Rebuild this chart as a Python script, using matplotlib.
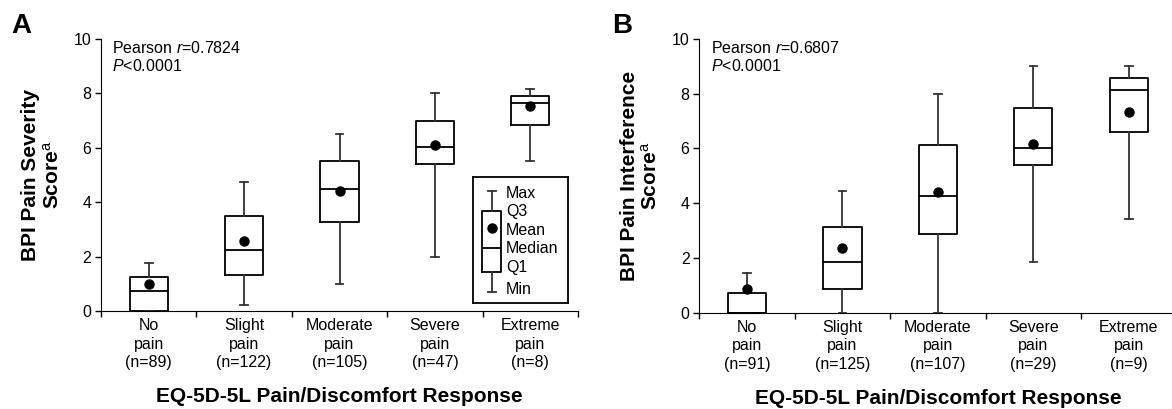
import matplotlib
matplotlib.use('Agg')
import matplotlib.pyplot as plt

plt.rcParams['font.family'] = 'Liberation Sans'
plt.rcParams['mathtext.fontset'] = 'custom'
plt.rcParams['mathtext.rm'] = 'Liberation Sans'
plt.rcParams['mathtext.it'] = 'Liberation Sans:italic'
plt.rcParams['mathtext.bf'] = 'Liberation Sans:bold'

# categories
categories = ['No\npain', 'Slight\npain', 'Moderate\npain', 'Severe\npain', 'Extreme\npain']

# panel A - BPI pain severity
n_a = [89, 122, 105, 47, 8]
sev_min = [0.0, 0.23, 0.98, 2.0, 5.51]
sev_q1 = [0.0, 1.31, 3.27, 5.39, 6.83]
sev_med = [0.75, 2.24, 4.50, 6.02, 7.64]
sev_q3 = [1.26, 3.49, 5.50, 7.0, 7.89]
sev_max = [1.75, 4.75, 6.51, 8.03, 8.15]
sev_mean = [0.98, 2.56, 4.40, 6.11, 7.53]

# panel B - BPI pain interference
n_b = [91, 125, 107, 29, 9]
int_min = [0.0, 0.0, 0.0, 1.85, 3.42]
int_q1 = [0.0, 0.85, 2.86, 5.39, 6.59]
int_med = [0.0, 1.85, 4.27, 6.02, 8.15]
int_q3 = [0.71, 3.13, 6.14, 7.49, 8.59]
int_max = [1.44, 4.43, 8.0, 9.01, 9.01]
int_mean = [0.85, 2.36, 4.40, 6.17, 7.33]

# schematic key (in key axes units 0-1)
key_stats = {'whislo': 0.089, 'q1': 0.25, 'med': 0.438, 'q3': 0.731, 'whishi': 0.891, 'mean': 0.594}
key_labels = ['Max', 'Q3', 'Mean', 'Median', 'Q1', 'Min']
key_label_y = [0.873, 0.723, 0.580, 0.434, 0.282, 0.113]

W, H = 1172, 409
fig = plt.figure(figsize=(W / 100, H / 100), dpi=100)

line_col = '#333333'
fs = 11.5


def make_stats(mins, q1s, meds, q3s, maxs, means):
    out = []
    for i in range(len(mins)):
        out.append({'whislo': mins[i], 'q1': q1s[i], 'med': meds[i], 'q3': q3s[i],
                    'whishi': maxs[i], 'mean': means[i], 'fliers': []})
    return out


def draw_panel(ax, stats, ns, ylabel, r_text):
    ax.bxp(stats, positions=range(1, len(stats) + 1), widths=0.4, capwidths=0.08,
           showmeans=True, patch_artist=False,
           boxprops=dict(color='black', lw=1.3),
           medianprops=dict(color='black', lw=1.3),
           whiskerprops=dict(color=line_col, lw=1.3),
           capprops=dict(color=line_col, lw=1.3),
           meanprops=dict(marker='o', markerfacecolor='black', markeredgecolor='black', markersize=6.5))
    ax.set_xlim(0.5, 5.5)
    ax.set_ylim(0, 10)
    ax.spines['top'].set_visible(False)
    ax.spines['right'].set_visible(False)
    ax.set_yticks([0, 2, 4, 6, 8, 10])
    ax.set_xticks([0.5, 1.5, 2.5, 3.5, 4.5, 5.5])
    ax.set_xticklabels([])
    ax.set_xticks([1, 2, 3, 4, 5], minor=True)
    ax.set_xticklabels([c + '\n(n=%d)' % n for c, n in zip(categories, ns)], minor=True,
                       fontsize=fs, linespacing=1.3)
    ax.tick_params(axis='x', which='minor', length=0, pad=5)
    ax.tick_params(axis='x', which='major', length=4, width=1, direction='out')
    ax.tick_params(axis='y', length=4, width=1, labelsize=fs, pad=3)
    ax.set_xlabel('EQ-5D-5L Pain/Discomfort Response', fontsize=15, fontweight='bold', labelpad=12)
    ax.set_ylabel(ylabel, fontsize=15, fontweight='bold', linespacing=1.15)
    ax.yaxis.set_label_coords(-0.08, 0.5)
    ax.text(0.024, 0.995, r_text, transform=ax.transAxes, ha='left', va='top', fontsize=fs,
            linespacing=1.15)


axA = fig.add_axes([101 / W, 1 - 311 / H, 477 / W, 272 / H])
draw_panel(axA, make_stats(sev_min, sev_q1, sev_med, sev_q3, sev_max, sev_mean), n_a,
           'BPI Pain Severity\nScore$^{\\rm a}$', 'Pearson $r$=0.7824\n$P$<0.0001')

axB = fig.add_axes([699.3 / W, 1 - 312.7 / H, 477.2 / W, 273.7 / H])
draw_panel(axB, make_stats(int_min, int_q1, int_med, int_q3, int_max, int_mean), n_b,
           'BPI Pain Interference\nScore$^{\\rm a}$', 'Pearson $r$=0.6807\n$P$<0.0001')

# key box
axK = fig.add_axes([472.7 / W, 1 - 303.3 / H, 95.6 / W, 126.3 / H])
axK.bxp([dict(key_stats, fliers=[])], positions=[0.2], widths=0.2, capwidths=0.09, showmeans=True,
        boxprops=dict(color='black', lw=1.3),
        medianprops=dict(color='black', lw=1.3),
        whiskerprops=dict(color=line_col, lw=1.3),
        capprops=dict(color=line_col, lw=1.3),
        meanprops=dict(marker='o', markerfacecolor='black', markeredgecolor='black', markersize=6.5))
axK.set_xlim(0, 1)
axK.set_ylim(0, 1)
axK.set_xticks([])
axK.set_yticks([])
for s in axK.spines.values():
    s.set_linewidth(1.3)
for lab, y in zip(key_labels, key_label_y):
    axK.text(0.35, y, lab, ha='left', va='center', fontsize=fs)

fig.text(11 / W, 1 - 33 / H, 'A', fontsize=20, fontweight='bold', va='baseline')
fig.text(612 / W, 1 - 33 / H, 'B', fontsize=20, fontweight='bold', va='baseline')

fig.savefig('out.png', dpi=100)
